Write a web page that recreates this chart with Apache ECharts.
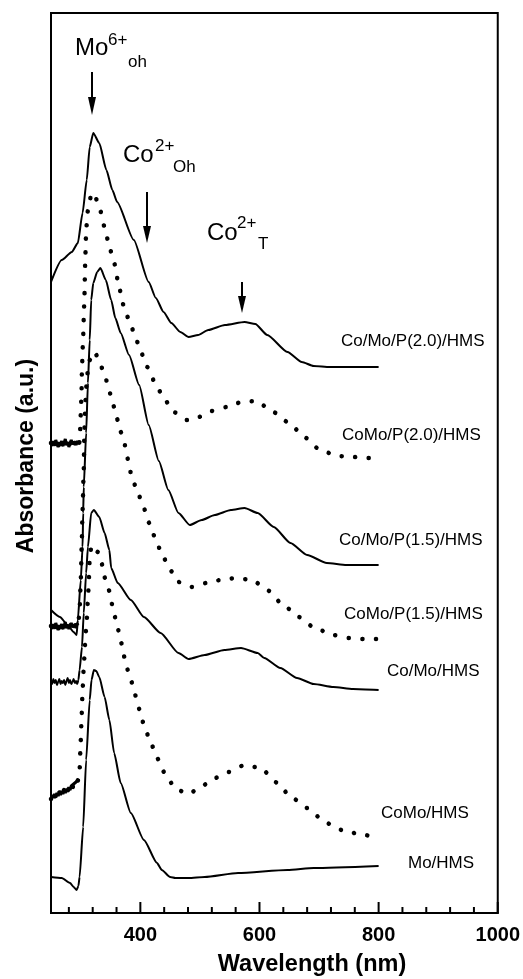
<!DOCTYPE html>
<html>
<head>
<meta charset="utf-8">
<script src="https://cdn.jsdelivr.net/npm/echarts@6/dist/echarts.min.js"></script>
<style>
  html, body { margin: 0; padding: 0; background: #fff; }
  #chart { width: 523px; height: 979px; }
</style>
</head>
<body>
<div id="chart"></div>
<script>
// UV-vis DRS spectra, curves offset vertically (absorbance in arbitrary units)

// Co/Mo/P(2.0)/HMS
const seqP20Wl  = [250,268,285,295,303,310,315,321,331,343,353,361,389,414,426,439,452,467,481,497,514,542,575,593,613,647,671,691,718,800];
const seqP20Abs = [631,653,661,670,700,733,766,780,770,743,723,711,673,631,615,601,590,581,576,578,583,588,591,589,578,561,551,547,546,546];

// CoMo/P(2.0)/HMS
const coP20Wl  = [250,252,254,256,258,260,262,264,266,268,270,272,274,276,278,280,282,284,286,288,290,292,294,296,298,
                  301,302,304,305,306,307.5,309,312,317.5,322,331,340,348,356,364.5,370,375.5,384,392,401.5,
                  411.5,425,439,456,478,498,519,545,570,595,623,650,675,702,731,758,781,800];
const coP20Abs = [470,467,472,468,473,469,466,471,468,472,467,470,474,468,471,466,470,473,469,467,471,468,472,469,471,
                  513,546,576,595,613,653,683,703,718,720,706,686,666,650,626,610,600,588,575,560,
                  546,530,515,501,493,496,502,506,511,512,501,490,476,463,457,456,455,455];

// Co/Mo/P(1.5)/HMS
const seqP15Wl  = [250,265,278,288,293,295,300,303,304,305,309,312,315,317.5,321,327.5,333,342,351,358,
                   367,381,398,414,431,447,464,483,503,525,552,575,597,624,652,680,713,746,800];
const seqP15Abs = [303,296,288,281,278,293,333,366,400,426,480,530,573,613,630,641,645,633,613,595,
                   580,558,528,488,452,423,400,388,393,398,403,405,400,386,370,358,350,348,348];

// CoMo/P(1.5)/HMS
const coP15Wl  = [250,252,254,256,258,260,262,264,266,268,270,272,274,276,278,280,282,284,286,288,290,292,294,296,
                  298,300,301.5,303,305,306,308,310.5,315,319,323,331,338,345,351,356,362,367,373,375.5,
                  381,385,389,396,405,415,425,436,450,464,486,511,535,560,588,613,640,666,693,724,750,774,800];
const coP15Abs = [287,284,289,285,290,286,283,288,285,289,284,287,291,285,288,284,287,290,286,284,288,285,289,290,
                  303,333,368,403,443,483,513,538,553,560,561,553,541,530,516,506,493,481,473,461,
                  450,436,430,420,406,390,375,359,343,331,326,330,333,335,333,323,308,296,285,278,275,274,274];

// Co/Mo/HMS
const seqWl  = [250,252,254,256,258,260,262,264,266,268,270,272,274,276,278,280,282,284,286,288,290,292,294,296,
                298,302,305,309,312,317.5,322,331,340,348,351,362,384,406,434,464,481,508,541,569,597,608,635,663,691,724,757,800];
const seqAbs = [232,229,234,230,233,228,231,234,229,232,230,233,228,232,235,230,233,229,231,234,230,232,229,233,
                243,266,300,340,366,400,403,396,380,363,345,330,313,296,280,260,254,258,263,265,260,255,245,235,229,226,224,223];

// CoMo/HMS
const coWl  = [250,252,254,256,258,260,262,264,266,268,270,272,274,276,278,280,282,284,286,288,290,292,294,296,
               298,300,301.5,303,305,307,310,312,313.5,315,317.5,322,328.5,335,339.5,347,353,359,364.5,368,
               371.5,375.5,383,390.5,399,406,417,428,441,456,463,481,501,525,548,575,602,629,653,680,
               704.5,723,738,751.5,765.5,776.5,787.5,800];
const coAbs = [114,118,115,119,116,120,117,121,118,122,119,123,120,124,121,126,123,127,125,129,127,131,130,134,
               143,173,198,223,245,268,293,313,333,356,365,368,361,350,336,323,308,293,280,270,
               260,248,236,219,203,188,171,155,140,127,123,119,126,135,141,148,145,130.5,116,105,
               94,87,83,81,79,78,77,77];

// Mo/HMS
const moWl  = [250,268,282,288,293,296,298,304,309,315,318,322,326,331,340,348,356,367,384,406,428,436,450,459,481,508,564,647,691,800];
const moAbs = [36,35,30,26,23,27,36,86,153,213,233,243,242,236,216,193,160,130,100,73,50,43,36,35,35,36,40,43,45,47];

// x-axis ticks
const majorTicks = [400, 600, 800, 1000];
const minorTicks = [280, 320, 360, 440, 480, 520, 560, 640, 680, 720, 760, 840, 880, 920, 960];

// dotted spectra: the noisy region below this wavelength is drawn as a dense band
const samples = [
  { name: 'Co/Mo/P(2.0)/HMS', wl: seqP20Wl, abs: seqP20Abs, dotted: false },
  { name: 'CoMo/P(2.0)/HMS',  wl: coP20Wl,  abs: coP20Abs,  dotted: true, noisyTo: 298 },
  { name: 'Co/Mo/P(1.5)/HMS', wl: seqP15Wl, abs: seqP15Abs, dotted: false },
  { name: 'CoMo/P(1.5)/HMS',  wl: coP15Wl,  abs: coP15Abs,  dotted: true, noisyTo: 296 },
  { name: 'Co/Mo/HMS',        wl: seqWl,    abs: seqAbs,    dotted: false },
  { name: 'CoMo/HMS',         wl: coWl,     abs: coAbs,     dotted: true, noisyTo: 296 },
  { name: 'Mo/HMS',           wl: moWl,     abs: moAbs,     dotted: false }
];

const FONT = '"Liberation Sans", Arial, Helvetica, sans-serif';
const INK = '#000';

const series = [];
samples.forEach(s => {
  const pts = s.wl.map((w, i) => [w, s.abs[i]]);
  series.push({
    name: s.name,
    type: 'line',
    data: pts,
    showSymbol: false,
    smooth: 0.2,
    smoothMonotone: 'x',
    silent: true,
    lineStyle: s.dotted
      ? { color: INK, width: 4.5, type: [0.1, 13.5], cap: 'round' }
      : { color: INK, width: 2 }
  });
  if (s.dotted) {
    series.push({
      name: s.name + ' (baseline)',
      type: 'line',
      data: pts.filter(p => p[0] <= s.noisyTo),
      showSymbol: false,
      silent: true,
      lineStyle: { color: INK, width: 3 }
    });
  }
});

// inward tick marks on the wavelength axis
function tickSeries(values, len) {
  return {
    type: 'custom',
    silent: true,
    clip: false,
    data: values.map(v => [v, 0]),
    renderItem: (params, api) => {
      const p = api.coord([api.value(0), 0]);
      return {
        type: 'line',
        shape: { x1: p[0], y1: p[1], x2: p[0], y2: p[1] - len },
        style: { stroke: INK, lineWidth: 2 }
      };
    }
  };
}
series.push(tickSeries(majorTicks, 11));
series.push(tickSeries(minorTicks, 6));

// curve labels on the right (pixel layout)
const curveLabels = [
  { text: 'Co/Mo/P(2.0)/HMS', x: 341, y: 341 },
  { text: 'CoMo/P(2.0)/HMS',  x: 342, y: 435 },
  { text: 'Co/Mo/P(1.5)/HMS', x: 339, y: 540 },
  { text: 'CoMo/P(1.5)/HMS',  x: 344, y: 614 },
  { text: 'Co/Mo/HMS',        x: 387, y: 671 },
  { text: 'CoMo/HMS',         x: 381, y: 813 },
  { text: 'Mo/HMS',           x: 408, y: 863 }
];

function txt(text, x, y, size, opts) {
  return Object.assign({
    type: 'text', silent: true,
    style: {
      text: text, x: x, y: y, fill: INK,
      font: (opts && opts.bold ? 'bold ' : '') + size + 'px ' + FONT,
      textAlign: (opts && opts.align) || 'left',
      textVerticalAlign: 'middle'
    }
  }, (opts && opts.extra) || {});
}

function arrow(x, y1, y2, headLen) {
  return [
    { type: 'line', silent: true, shape: { x1: x, y1: y1, x2: x, y2: y2 - headLen + 1 },
      style: { stroke: INK, lineWidth: 2 } },
    { type: 'polygon', silent: true,
      shape: { points: [[x - 4, y2 - headLen], [x + 4, y2 - headLen], [x, y2]] },
      style: { fill: INK } }
  ];
}

const graphics = []
  .concat(curveLabels.map(l => txt(l.text, l.x, l.y, 17)))
  .concat([
    txt('Mo', 75, 48, 24), txt('6+', 108, 40, 17), txt('oh', 128, 62, 17),
    txt('Co', 123, 155, 24), txt('2+', 155, 146, 17), txt('Oh', 173, 167, 17),
    txt('Co', 207, 233, 24), txt('2+', 237, 223, 17), txt('T', 258, 244, 17)
  ])
  .concat(arrow(92, 72, 115, 18))
  .concat(arrow(147, 192, 243, 17))
  .concat(arrow(242, 282, 313, 17))
  .concat([
    txt('Wavelength (nm)', 312, 965, 23.5, { bold: true, align: 'center' }),
    txt('Absorbance (a.u.)', 0, 0, 23, { bold: true, align: 'center',
      extra: { x: 27, y: 456, rotation: Math.PI / 2 } })
  ]);

const chart = echarts.init(document.getElementById('chart'), null, { renderer: 'canvas' });
chart.setOption({
  animation: false,
  backgroundColor: '#fff',
  grid: { left: 51, right: 20, top: 13, bottom: 66, show: true, borderColor: INK, borderWidth: 2, backgroundColor: 'transparent' },
  xAxis: {
    type: 'value', min: 250, max: 1000, position: 'bottom',
    axisLine: { show: true, lineStyle: { color: INK, width: 2 } },
    axisTick: { show: false },
    axisLabel: { show: true, customValues: majorTicks, margin: 12, color: INK, fontSize: 20,
                 fontWeight: 'bold', fontFamily: FONT, formatter: v => String(v) },
    splitLine: { show: false }
  },
  yAxis: {
    type: 'value', min: 0, max: 900,
    axisLine: { show: true, lineStyle: { color: INK, width: 2 } },
    axisTick: { show: false }, axisLabel: { show: false }, splitLine: { show: false }
  },
  series: series,
  graphic: graphics
});
</script>
</body>
</html>
